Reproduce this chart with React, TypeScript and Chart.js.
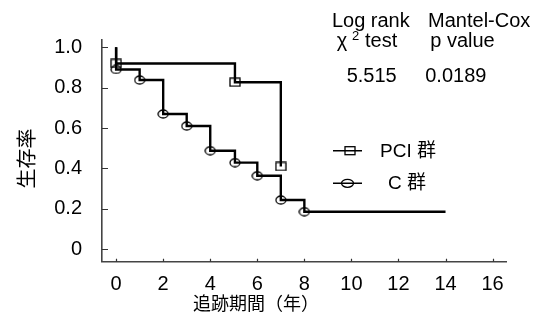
import React, { useEffect, useRef } from 'react';
import { Chart, registerables } from 'chart.js';

Chart.register(...registerables);

// ---- data ----
const pciX = [0, 0, 5.05, 7];
const pciY = [1.0, 0.92, 0.827, 0.41];
const cX = [0, 0, 1, 2, 3, 4, 5.05, 6, 7, 8, 14];
const cY = [1.0, 0.89, 0.838, 0.67, 0.61, 0.488, 0.429, 0.364, 0.244, 0.186, 0.186];
const xTickValues = [0, 2, 4, 6, 8, 10, 12, 14, 16];
const yTickValues = [0, 0.2, 0.4, 0.6, 0.8, 1.0];
const yTickLabels = ['0', '0.2', '0.4', '0.6', '0.8', '1.0'];
const seriesNames = ['PCI 群', 'C 群'];
const xTitle = '追跡期間（年）';
const yTitle = '生存率';
const statHeaders1 = ['Log rank', 'Mantel-Cox'];
const statHeaders2 = ['test', 'p value'];
const statValues = ['5.515', '0.0189'];

const W = 542;
const H = 320;
const LATIN = "'Liberation Sans', Arial, sans-serif";
const MIXED = "'Liberation Sans', 'Noto Sans CJK JP', sans-serif";
const CJK = "'Noto Sans CJK JP', sans-serif";

function makeMarker(kind: 'rect' | 'ellipse'): HTMLCanvasElement {
  const c = document.createElement('canvas');
  c.width = 12;
  c.height = 10;
  const g = c.getContext('2d')!;
  g.strokeStyle = '#000';
  g.lineWidth = 1.3;
  if (kind === 'rect') {
    g.strokeRect(1, 1, 10, 8);
  } else {
    g.beginPath();
    g.ellipse(6, 5, 5, 4, 0, 0, Math.PI * 2);
    g.stroke();
  }
  return c;
}

const overlay = {
  id: 'overlay',
  afterDraw(chart: any) {
    const ctx = chart.ctx as CanvasRenderingContext2D;
    const xs = chart.scales.x;
    const ys = chart.scales.y;
    const area = chart.chartArea;
    ctx.save();
    // inward tick marks
    ctx.strokeStyle = '#333';
    ctx.lineWidth = 1.2;
    ctx.beginPath();
    yTickValues.forEach((v) => {
      const y = Math.round(ys.getPixelForValue(v)) + 0.5;
      ctx.moveTo(area.left, y);
      ctx.lineTo(area.left + 6, y);
    });
    xTickValues.forEach((v) => {
      const x = Math.round(xs.getPixelForValue(v)) + 0.5;
      ctx.moveTo(x, area.bottom);
      ctx.lineTo(x, area.bottom - 3);
    });
    ctx.stroke();

    ctx.fillStyle = '#000';
    // y title
    ctx.save();
    ctx.translate(26, 158.5);
    ctx.rotate(-Math.PI / 2);
    ctx.font = `20px ${CJK}`;
    ctx.textAlign = 'center';
    ctx.textBaseline = 'middle';
    ctx.fillText(yTitle, 0, 0);
    ctx.restore();

    // x title
    ctx.font = `18px ${CJK}`;
    ctx.textAlign = 'center';
    ctx.textBaseline = 'middle';
    ctx.fillText(xTitle, 256, 303);

    // stats block
    ctx.font = `20px ${LATIN}`;
    ctx.textBaseline = 'alphabetic';
    ctx.textAlign = 'center';
    ctx.fillText(statHeaders1[0], 370.8, 27);
    ctx.fillText(statHeaders1[1], 479.2, 27);
    ctx.fillText(statHeaders2[1], 462.5, 47);
    ctx.fillText(statValues[0], 371.7, 82);
    ctx.fillText(statValues[1], 455.8, 82);
    ctx.textAlign = 'left';
    ctx.fillText('χ', 336.7, 47);
    ctx.font = `13px ${LATIN}`;
    ctx.fillText('2', 352, 40);
    ctx.font = `20px ${LATIN}`;
    ctx.fillText(statHeaders2[0], 365, 47);

    // legend
    ctx.strokeStyle = '#000';
    ctx.lineWidth = 1.5;
    ctx.beginPath();
    ctx.moveTo(333, 150.7);
    ctx.lineTo(362, 150.7);
    ctx.moveTo(333, 183.3);
    ctx.lineTo(362, 183.3);
    ctx.stroke();
    ctx.lineWidth = 1.3;
    ctx.strokeRect(345, 146.7, 10, 8);
    ctx.beginPath();
    ctx.ellipse(347.5, 183.3, 6, 4, 0, 0, Math.PI * 2);
    ctx.stroke();
    ctx.font = `19px ${MIXED}`;
    ctx.textBaseline = 'middle';
    ctx.textAlign = 'left';
    ctx.fillText(seriesNames[0], 380, 151.5);
    ctx.fillText(seriesNames[1], 388, 184);
    ctx.restore();
  },
};

export default function App() {
  const ref = useRef<HTMLCanvasElement>(null);
  useEffect(() => {
    const canvas = ref.current!;
    const rectImg = makeMarker('rect');
    const ellImg = makeMarker('ellipse');
    const pointR = (n: number, skipLast: boolean) => (c: any) => {
      const i = c.dataIndex;
      if (i === 0 || (skipLast && i === n - 1)) return 0;
      return 5;
    };
    const chart = new Chart(canvas, {
      type: 'line',
      data: {
        datasets: [
          {
            label: seriesNames[0],
            data: pciX.map((x, i) => ({ x, y: pciY[i] })),
            stepped: true,
            borderColor: '#000',
            borderWidth: 2.4,
            pointStyle: rectImg as any,
            pointRadius: pointR(pciX.length, false) as any,
            fill: false,
          },
          {
            label: seriesNames[1],
            data: cX.map((x, i) => ({ x, y: cY[i] })),
            stepped: true,
            borderColor: '#000',
            borderWidth: 2.4,
            pointStyle: ellImg as any,
            pointRadius: pointR(cX.length, true) as any,
            fill: false,
          },
        ],
      },
      options: {
        responsive: false,
        animation: false,
        devicePixelRatio: 1,
        layout: { padding: { left: 0, right: W - 506, top: 40, bottom: 0 } },
        plugins: { legend: { display: false }, tooltip: { enabled: false }, title: { display: false } },
        scales: {
          x: {
            type: 'linear',
            min: -0.6,
            max: 16.57,
            grid: { display: false, drawTicks: false },
            border: { display: true, color: '#444', width: 1.6 },
            afterBuildTicks: (s: any) => {
              s.ticks = xTickValues.map((v) => ({ value: v }));
            },
            afterFit: (s: any) => {
              s.height = H - 261.7;
            },
            ticks: {
              color: '#000',
              font: { family: LATIN, size: 20 },
              padding: 11,
              maxRotation: 0,
              autoSkip: false,
              callback: (v: any) => String(v),
            },
          },
          y: {
            type: 'linear',
            min: -0.0614,
            max: 1.036,
            grid: { display: false, drawTicks: false },
            border: { display: true, color: '#444', width: 1.6 },
            afterBuildTicks: (s: any) => {
              s.ticks = yTickValues.map((v) => ({ value: v }));
            },
            afterFit: (s: any) => {
              s.width = 102;
            },
            ticks: {
              color: '#000',
              font: { family: LATIN, size: 20 },
              padding: 20,
              autoSkip: false,
              callback: (v: any) => {
                const i = yTickValues.findIndex((t) => Math.abs(t - v) < 1e-6);
                return i >= 0 ? yTickLabels[i] : '';
              },
            },
          },
        },
      },
      plugins: [overlay],
    });
    return () => chart.destroy();
  }, []);
  return (
    <div style={{ position: 'absolute', left: 0, top: 0, width: W, height: H, overflow: 'hidden', background: '#fff' }}>
      <canvas ref={ref} width={W} height={H} style={{ display: 'block' }} />
    </div>
  );
}
